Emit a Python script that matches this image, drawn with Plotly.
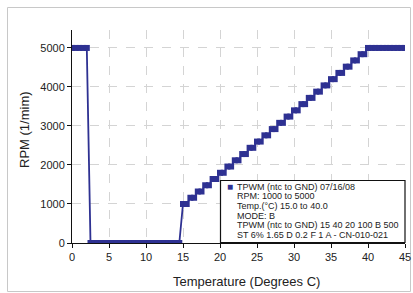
import plotly.graph_objects as go

temps = [0, 0.5, 1, 1.5, 2, 2.5, 3, 3.5, 4, 4.5, 5, 5.5, 6, 6.5, 7, 7.5, 8, 8.5, 9, 9.5,
         10, 10.5, 11, 11.5, 12, 12.5, 13, 13.5, 14, 14.5, 15, 15.5, 16, 16.5, 17, 17.5,
         18, 18.5, 19, 19.5, 20, 20.5, 21, 21.5, 22, 22.5, 23, 23.5, 24, 24.5, 25, 25.5,
         26, 26.5, 27, 27.5, 28, 28.5, 29, 29.5, 30, 30.5, 31, 31.5, 32, 32.5, 33, 33.5,
         34, 34.5, 35, 35.5, 36, 36.5, 37, 37.5, 38, 38.5, 39, 39.5, 40, 40.5, 41, 41.5,
         42, 42.5, 43, 43.5, 44, 44.5, 45]
rpm = [5000, 5000, 5000, 5000, 5000,
       0, 0, 0, 0, 0, 0, 0, 0, 0, 0, 0, 0, 0, 0, 0, 0, 0, 0, 0, 0, 0, 0, 0, 0, 0,
       1000, 1000, 1160, 1160, 1320, 1320, 1480, 1480, 1640, 1640, 1800, 1800,
       1960, 1960, 2120, 2120, 2280, 2280, 2440, 2440, 2600, 2600, 2760, 2760,
       2920, 2920, 3080, 3080, 3240, 3240, 3400, 3400, 3560, 3560, 3720, 3720,
       3880, 3880, 4040, 4040, 4200, 4200, 4360, 4360, 4520, 4520, 4680, 4680,
       4840, 4840,
       5000, 5000, 5000, 5000, 5000, 5000, 5000, 5000, 5000, 5000, 5000]
x_ticks = [0, 5, 10, 15, 20, 25, 30, 35, 40, 45]
y_ticks = [0, 1000, 2000, 3000, 4000, 5000]
x_title = "Temperature (Degrees C)"
y_title = "RPM (1/mim)"
legend_lines = ["TPWM (ntc to GND) 07/16/08",
                "RPM: 1000 to 5000",
                "Temp.(°C) 15.0 to 40.0",
                "MODE: B",
                "TPWM (ntc to GND) 15 40 20 100 B 500",
                "ST 6% 1.65 D 0.2 F 1 A - CN-010-021"]

BLUE = "#2E3192"
FONT = "Liberation Sans, Arial, sans-serif"

fig = go.Figure()
fig.add_trace(go.Scatter(
    x=temps, y=rpm, mode="lines+markers",
    line=dict(color=BLUE, width=1.8),
    marker=dict(symbol="square", size=6, color=BLUE),
    showlegend=False,
))

W, H = 413, 293
L, R, T, B = 72, 8, 30, 50
pw, ph = W - L - R, H - T - B

def px_x(p):
    return (p - L) / pw

def px_y(p):
    return (H - B - p) / ph

shapes = [
    dict(type="rect", xref="paper", yref="paper",
         x0=px_x(7.5), x1=px_x(410.5), y0=px_y(291.5), y1=px_y(7.5),
         line=dict(color="#c8c8c8", width=1), layer="below"),
    dict(type="rect", xref="paper", yref="paper",
         x0=px_x(220.5), x1=px_x(405), y0=px_y(242.5), y1=px_y(180.5),
         line=dict(color="#111111", width=1.2), fillcolor="white", layer="above"),
]

centers = [186.5, 196.2, 205.9, 215.6, 225.3, 235]
annotations = []
for txt, cy in zip(legend_lines, centers):
    annotations.append(dict(
        xref="paper", yref="paper", x=px_x(235), y=px_y(cy),
        xanchor="left", yanchor="middle", text=txt, showarrow=False,
        font=dict(family=FONT, size=9, color="#222222")))
annotations.append(dict(
    xref="paper", yref="paper", x=px_x(224.5), y=px_y(186.5),
    xanchor="left", yanchor="middle", text="■", showarrow=False,
    font=dict(family=FONT, size=10, color=BLUE)))
annotations.append(dict(
    xref="paper", yref="paper", x=px_x(246), y=px_y(281),
    xanchor="center", yanchor="middle", text=x_title, showarrow=False,
    font=dict(family=FONT, size=13, color="#222222")))
annotations.append(dict(
    xref="paper", yref="paper", x=px_x(24), y=px_y(130),
    xanchor="center", yanchor="middle", text=y_title, showarrow=False,
    textangle=-90, font=dict(family=FONT, size=13, color="#222222")))

fig.update_layout(
    width=W, height=H,
    margin=dict(l=L, r=R, t=T, b=B, autoexpand=False),
    paper_bgcolor="white", plot_bgcolor="white",
    font=dict(family=FONT, size=11, color="#222222"),
    shapes=shapes, annotations=annotations,
    xaxis=dict(
        range=[0, 45], tickvals=x_ticks, showgrid=True, gridcolor="#d4d4d4",
        griddash="dash", gridwidth=1, zeroline=False, showline=True,
        linecolor="#111111", linewidth=1, ticks="outside", ticklen=4,
        tickcolor="#111111", tickfont=dict(size=11), automargin=False,
    ),
    yaxis=dict(
        range=[0, 5460], tickvals=y_ticks, showgrid=True, gridcolor="#d4d4d4",
        griddash="dash", gridwidth=1, zeroline=False, showline=True,
        linecolor="#111111", linewidth=1, ticks="outside", ticklen=4,
        tickcolor="#111111", tickfont=dict(size=11), automargin=False,
    ),
)

fig.write_html(
    "out.html",
    config={"displayModeBar": False},
    post_script="document.body.style.margin='0';document.body.style.overflow='hidden';",
)
